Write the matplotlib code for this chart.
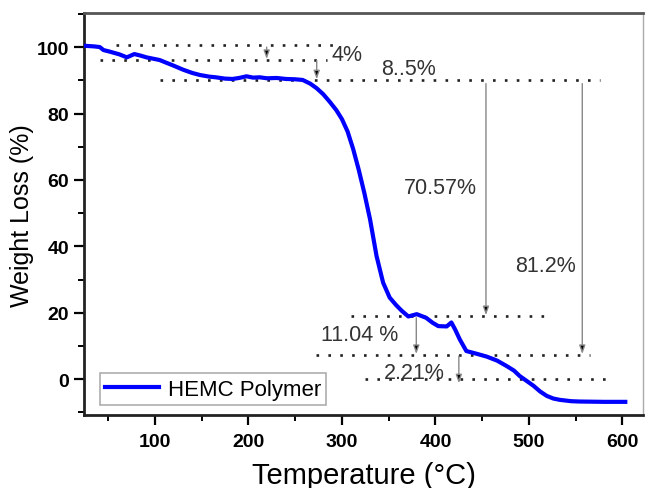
import numpy as np
import matplotlib
matplotlib.use("Agg")
import matplotlib.pyplot as plt
from matplotlib.ticker import MultipleLocator

plt.rcParams['font.family'] = ['Liberation Sans', 'DejaVu Sans']

# ---- TGA curve ----
temp = [24, 35, 41, 45, 52, 62, 70, 78, 85, 91, 98, 105, 112, 120, 130, 140, 148,
        158, 165, 175, 183, 190, 198, 205, 212, 220, 230, 240, 250, 258, 266,
        273, 280, 287, 294, 300, 306, 312, 318, 324, 330, 337, 344, 351, 358,
        364, 371, 380, 390, 397, 403, 412, 417, 421, 426, 433, 445, 455, 466,
        476, 484, 490, 498, 505, 512, 519, 526, 533, 545, 554, 580, 603]
weight = [100.4, 100.2, 100.0, 99.1, 98.6, 97.8, 96.9, 97.9, 97.4, 96.9, 96.5, 96.1,
          95.3, 94.4, 93.2, 92.2, 91.6, 91.1, 90.9, 90.5, 90.4, 90.7, 91.2, 90.8,
          90.9, 90.6, 90.7, 90.4, 90.3, 90.1, 89.0, 87.6, 85.8, 83.5, 81.0, 78.3,
          74.6, 69.3, 63.0, 56.0, 48.2, 37.1, 29.1, 24.6, 22.3, 20.6, 18.9, 19.6,
          18.5, 17.0, 16.0, 15.9, 17.1, 15.0, 12.0, 8.5, 7.6, 6.8, 5.6, 4.0, 2.6,
          1.0, -0.6, -2.0, -3.7, -5.0, -5.8, -6.2, -6.6, -6.7, -6.8, -6.8]

# dotted guide levels: (level, T start, T end)
guide_level = [100.5, 96.1, 90.0, 19.0, 7.3, 0.0]
guide_t0 = [58, 41, 105, 310, 272, 325]
guide_t1 = [294, 284, 576, 517, 565, 590]

# arrows: (T, from, to)
arrow_t = [219.5, 273, 454, 557, 379.5, 425]
arrow_from = [100.0, 96.0, 89.0, 89.0, 18.5, 7.0]
arrow_to = [96.4, 90.3, 19.3, 7.6, 7.6, -1.2]

# labels
label_text = ["4%", "8..5%", "70.57%", "81.2%", "11.04 %", "2.21%"]
label_t = [305, 371, 405, 518, 319, 377]
label_w = [97.8, 93.4, 57.7, 34.1, 13.6, 2.0]

fig = plt.figure(figsize=(6.45, 4.89), dpi=100)
ax = fig.add_axes([0.130, 0.149, 0.867, 0.822])

for lv, t0, t1 in zip(guide_level, guide_t0, guide_t1):
    ax.plot([t0, t1], [lv, lv], color="#222222", lw=1.9,
            linestyle=(0, (1, 3.5)), zorder=2)

for t, a, b in zip(arrow_t, arrow_from, arrow_to):
    ax.annotate("", xy=(t, b), xytext=(t, a),
                arrowprops=dict(arrowstyle="-|>,head_length=0.5,head_width=0.18",
                                ec="#888888", fc="black", lw=1.0,
                                shrinkA=0, shrinkB=0), zorder=3)

ax.plot(temp, weight, color="#0000ff", lw=3.0, label="HEMC Polymer", zorder=4,
        solid_joinstyle="round")

for s, t, w in zip(label_text, label_t, label_w):
    ax.text(t, w, s, ha="center", va="center", fontsize=15.5, color="#333333",
            zorder=5)

ax.set_xlim(24, 622)
ax.set_ylim(-10.8, 110.2)
ax.xaxis.set_major_locator(MultipleLocator(100))
ax.xaxis.set_minor_locator(MultipleLocator(50))
ax.yaxis.set_major_locator(MultipleLocator(20))
ax.yaxis.set_minor_locator(MultipleLocator(10))
ax.tick_params(which="major", direction="out", length=7, width=1.6,
               labelsize=14, top=False, right=False)
ax.tick_params(axis="x", which="major", pad=6)
ax.tick_params(which="minor", direction="out", length=4, width=1.4,
               top=False, right=False)
for lab in ax.get_xticklabels() + ax.get_yticklabels():
    lab.set_fontweight("bold")

ax.spines["left"].set_linewidth(2.0)
ax.spines["bottom"].set_linewidth(2.0)
ax.spines["left"].set_color("#222222")
ax.spines["bottom"].set_color("#222222")
ax.spines["top"].set_linewidth(2.0)
ax.spines["top"].set_color("#555555")
ax.spines["right"].set_linewidth(1.0)
ax.spines["right"].set_color("#aaaaaa")

ax.set_xlabel("Temperature (°C)", fontsize=21, labelpad=8)
ax.set_ylabel("Weight Loss (%)", fontsize=18, labelpad=2)

leg = ax.legend(loc="lower left", bbox_to_anchor=(0.0286, 0.025),
                borderaxespad=0, fontsize=16, fancybox=False,
                handlelength=2.4, handletextpad=0.4, borderpad=0.25,
                frameon=True)
leg.get_frame().set_edgecolor("#999999")
leg.get_frame().set_linewidth(1.2)

fig.savefig("out.png", dpi=100)
